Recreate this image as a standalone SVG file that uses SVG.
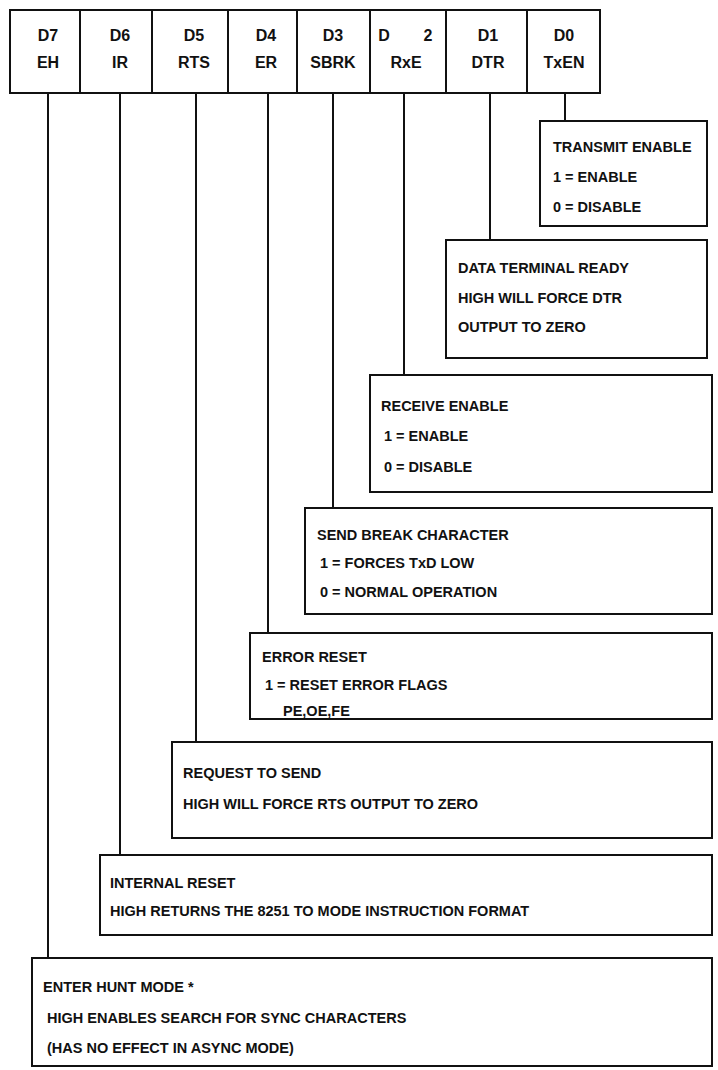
<svg xmlns="http://www.w3.org/2000/svg" width="718" height="1070" viewBox="0 0 718 1070">
<style>
text{font-family:"Liberation Sans",Arial,sans-serif;font-weight:bold;fill:#111}
.reg{font-size:16px;text-anchor:middle}
.d{font-size:14.5px}
.box{fill:#fff;stroke:#111;stroke-width:2}
.cell{fill:#fff;stroke:#111;stroke-width:2}
.ln{stroke:#111;stroke-width:2;fill:none}
</style>
<rect width="718" height="1070" fill="#fff"/>
<g id="register">
<rect class="cell" x="10" y="10" width="590" height="83" stroke-width="2.5"/>
<line class="ln" x1="80" y1="10" x2="80" y2="93"/>
<line class="ln" x1="152" y1="10" x2="152" y2="93"/>
<line class="ln" x1="228" y1="10" x2="228" y2="93"/>
<line class="ln" x1="297" y1="10" x2="297" y2="93"/>
<line class="ln" x1="370" y1="10" x2="370" y2="93"/>
<line class="ln" x1="446" y1="10" x2="446" y2="93"/>
<line class="ln" x1="527" y1="10" x2="527" y2="93"/>
<text class="reg" x="48" y="41">D7</text><text class="reg" x="48" y="68">EH</text>
<text class="reg" x="120" y="41">D6</text><text class="reg" x="120" y="68">IR</text>
<text class="reg" x="194" y="41">D5</text><text class="reg" x="194" y="68">RTS</text>
<text class="reg" x="266" y="41">D4</text><text class="reg" x="266" y="68">ER</text>
<text class="reg" x="333" y="41">D3</text><text class="reg" x="333" y="68">SBRK</text>
<text class="reg" y="41"><tspan x="384">D</tspan><tspan x="428">2</tspan></text><text class="reg" x="406" y="68">RxE</text>
<text class="reg" x="488" y="41">D1</text><text class="reg" x="488" y="68">DTR</text>
<text class="reg" x="564" y="41">D0</text><text class="reg" x="564" y="68">TxEN</text>
</g>
<g id="connectors">
<line class="ln" x1="48" y1="93" x2="48" y2="958"/>
<line class="ln" x1="120" y1="93" x2="120" y2="855"/>
<line class="ln" x1="196" y1="93" x2="196" y2="742"/>
<line class="ln" x1="268" y1="93" x2="268" y2="633"/>
<line class="ln" x1="333" y1="93" x2="333" y2="508"/>
<line class="ln" x1="404" y1="93" x2="404" y2="375"/>
<line class="ln" x1="490" y1="93" x2="490" y2="240"/>
<line class="ln" x1="565" y1="93" x2="565" y2="121"/>
</g>
<g id="txen">
<rect class="box" x="540" y="121" width="167" height="105"/>
<text class="d" x="553" y="152">TRANSMIT  ENABLE</text>
<text class="d" x="553" y="182">1 = ENABLE</text>
<text class="d" x="553" y="212">0 = DISABLE</text>
</g>
<g id="dtr">
<rect class="box" x="446" y="240" width="261" height="118"/>
<text class="d" x="458" y="273">DATA TERMINAL READY</text>
<text class="d" x="458" y="303">HIGH  WILL FORCE  DTR</text>
<text class="d" x="458" y="332">OUTPUT TO ZERO</text>
</g>
<g id="rxe">
<rect class="box" x="370" y="375" width="342" height="117"/>
<text class="d" x="381" y="411">RECEIVE ENABLE</text>
<text class="d" x="384" y="441">1 = ENABLE</text>
<text class="d" x="384" y="472">0 = DISABLE</text>
</g>
<g id="sbrk">
<rect class="box" x="305" y="508" width="407" height="106"/>
<text class="d" x="317" y="540">SEND BREAK CHARACTER</text>
<text class="d" x="320" y="568">1 = FORCES TxD LOW</text>
<text class="d" x="320" y="597">0 = NORMAL OPERATION</text>
</g>
<g id="er">
<rect class="box" x="250" y="633" width="462" height="86"/>
<text class="d" x="262" y="662">ERROR RESET</text>
<text class="d" x="265" y="690">1 = RESET ERROR FLAGS</text>
<text class="d" x="283" y="716">PE,OE,FE</text>
</g>
<g id="rts">
<rect class="box" x="172" y="742" width="540" height="96"/>
<text class="d" x="183" y="778">REQUEST TO SEND</text>
<text class="d" x="183" y="809">HIGH WILL FORCE RTS OUTPUT TO ZERO</text>
</g>
<g id="ir">
<rect class="box" x="100" y="855" width="612" height="80"/>
<text class="d" x="110" y="888">INTERNAL RESET</text>
<text class="d" x="110" y="916">HIGH RETURNS THE 8251 TO MODE  INSTRUCTION FORMAT</text>
</g>
<g id="eh">
<rect class="box" x="32" y="958" width="680" height="108"/>
<text class="d" x="43" y="992">ENTER HUNT MODE *</text>
<text class="d" x="47" y="1023">HIGH ENABLES SEARCH FOR SYNC CHARACTERS</text>
<text class="d" x="47" y="1053">(HAS NO EFFECT IN ASYNC MODE)</text>
</g>
</svg>
